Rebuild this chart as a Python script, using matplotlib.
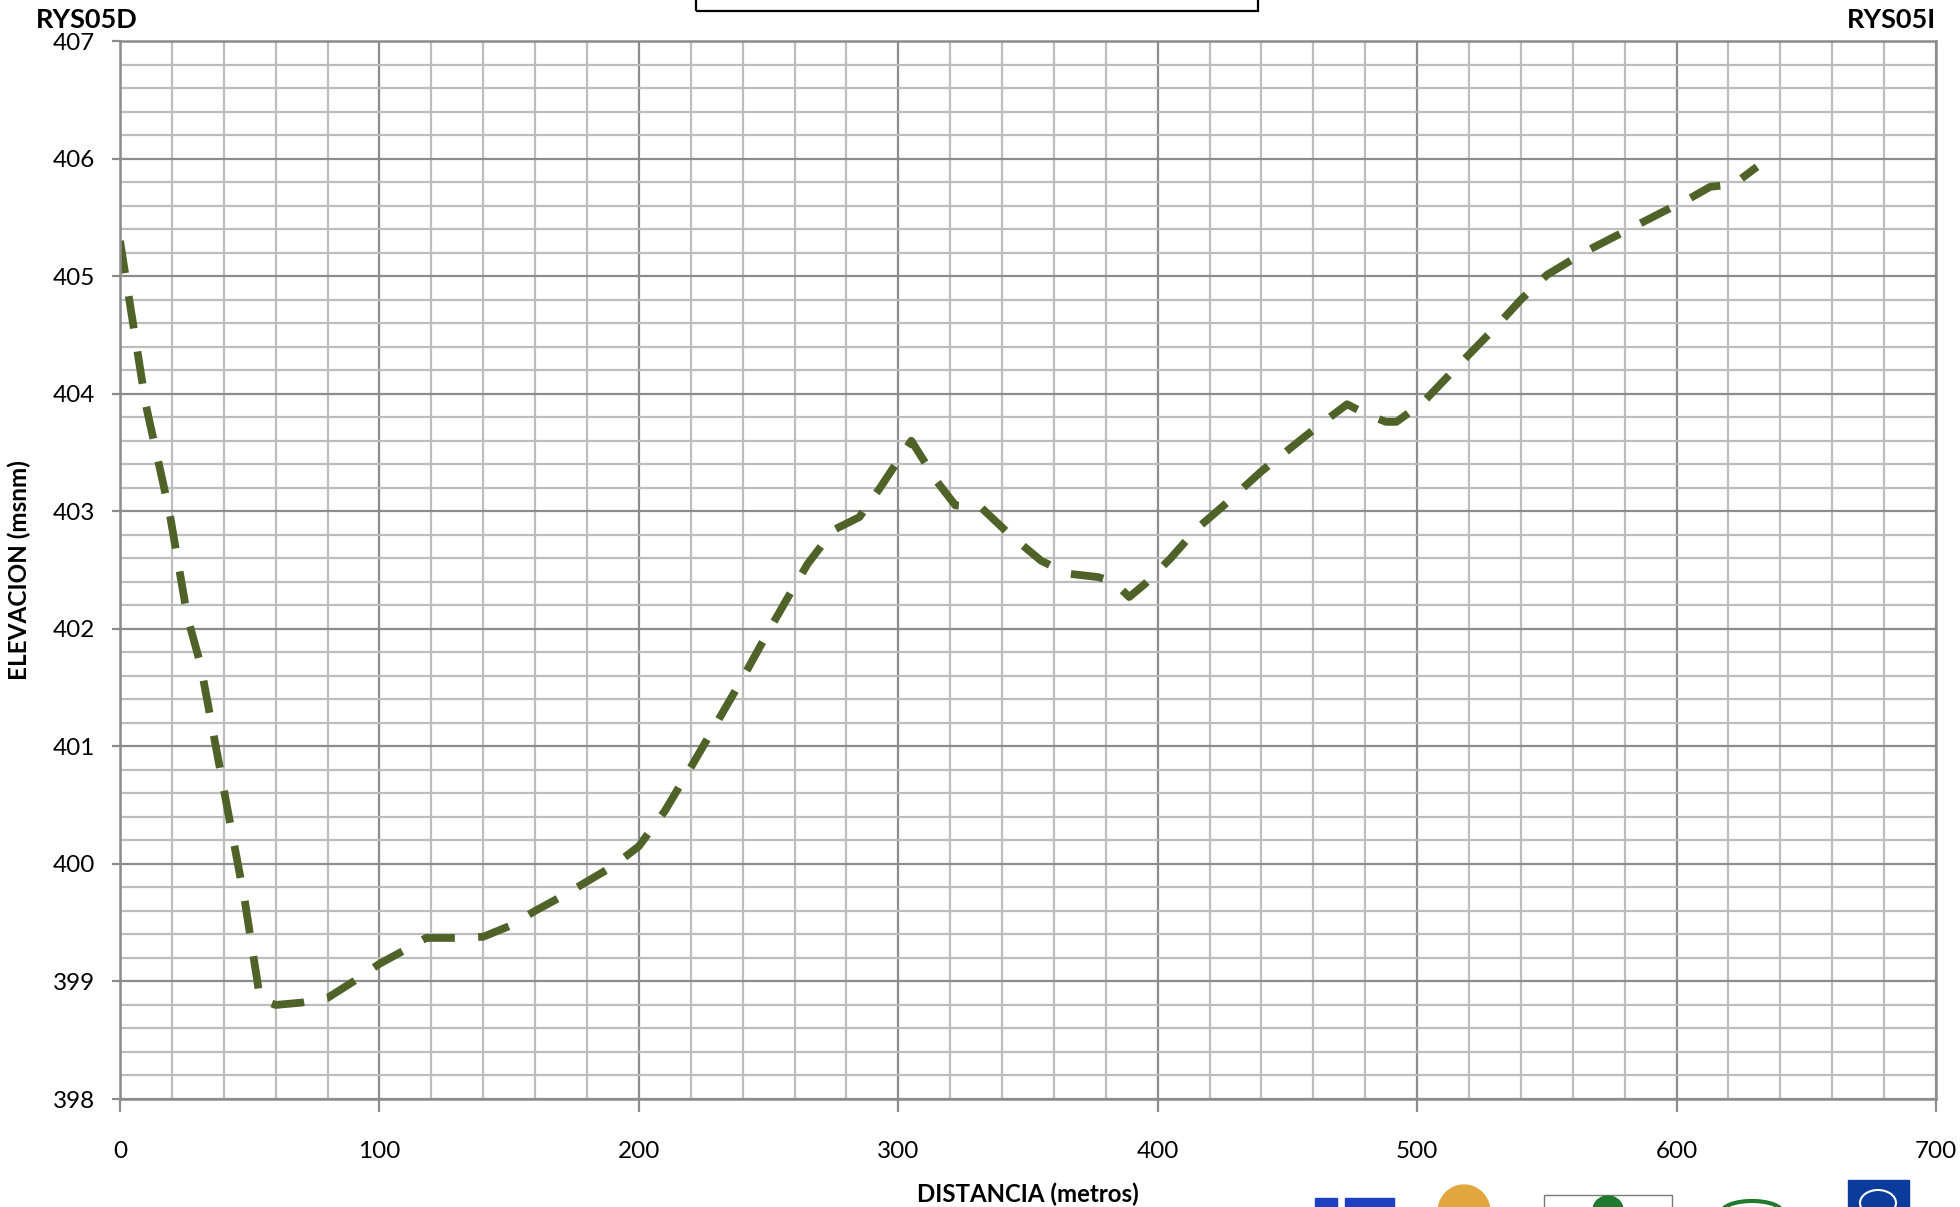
import matplotlib
matplotlib.use("Agg")
import matplotlib.pyplot as plt
from matplotlib.patches import Rectangle, Ellipse
from matplotlib.ticker import MultipleLocator

plt.rcParams["font.family"] = ["Lato", "DejaVu Sans"]

# perfil RYS05D -> RYS05I (distancia en m, elevación en msnm)
distancia = [0, 5, 10, 19, 26, 31, 42, 48, 54, 60, 70, 80, 90, 100, 110, 118,
             130, 140, 150, 160, 170, 180, 190, 200, 210, 220, 230, 240, 250,
             257, 265, 275, 285, 293, 305, 315, 322, 332, 343, 355, 365, 377,
             383, 389, 395, 405, 415, 425, 440, 457, 464, 473, 480, 488, 492,
             502, 515, 530, 540, 550, 565, 580, 595, 605, 613, 622, 631]
elevacion = [405.3, 404.6, 403.9, 403.0, 402.1, 401.7, 400.4, 399.7, 398.85,
             398.8, 398.82, 398.86, 399.0, 399.15, 399.27, 399.37, 399.37,
             399.38, 399.47, 399.6, 399.72, 399.85, 399.98, 400.15, 400.45,
             400.82, 401.2, 401.58, 401.98, 402.25, 402.55, 402.84, 402.95,
             403.2, 403.6, 403.25, 403.05, 403.03, 402.8, 402.58, 402.47,
             402.44, 402.4, 402.27, 402.38, 402.6, 402.85, 403.04, 403.34,
             403.64, 403.76, 403.91, 403.83, 403.76, 403.76, 403.92, 404.22,
             404.56, 404.8, 405.01, 405.21, 405.38, 405.55, 405.66, 405.76,
             405.78, 405.93]

W, H = 1960, 1207
fig = plt.figure(figsize=(W / 100, H / 100), dpi=100)
ax = fig.add_axes([120 / W, 1 - 1099 / H, (1936 - 120) / W, (1099 - 41) / H])


def fx(x):
    return x / W


def fy(y):
    return 1 - y / H


ax.set_xlim(0, 700)
ax.set_ylim(398, 407)
ax.xaxis.set_major_locator(MultipleLocator(100))
ax.xaxis.set_minor_locator(MultipleLocator(20))
ax.yaxis.set_major_locator(MultipleLocator(1))
ax.yaxis.set_minor_locator(MultipleLocator(0.2))
ax.grid(which="minor", color="#bdbdbd", lw=1.6)
ax.grid(which="major", color="#8c8c8c", lw=1.6)
ax.set_axisbelow(True)
for s in ax.spines.values():
    s.set_color("#8c8c8c")
    s.set_linewidth(1.8)
ax.tick_params(which="major", axis="y", length=6, width=1.6, color="#8c8c8c",
               labelsize=17.5, pad=12)
ax.tick_params(which="major", axis="x", length=9, width=1.6, color="#8c8c8c",
               labelsize=17.5, pad=21)
ax.tick_params(which="minor", length=0)

ax.plot(distancia, elevacion, color="#4f6228", lw=5.6, dashes=(4.2, 3.0),
        dash_capstyle="butt", solid_joinstyle="round")

fig.text(fx(1028), fy(1194), "DISTANCIA (metros)", fontsize=17.3,
         fontweight="bold", ha="center", va="center")
fig.text(fx(19), fy(570), "ELEVACION (msnm)", fontsize=17.5,
         fontweight="bold", ha="center", va="center", rotation=90)

fig.text(fx(36), fy(20), "RYS05D", fontsize=19.5, fontweight="bold",
         ha="left", va="center")
fig.text(fx(1936), fy(20), "RYS05I", fontsize=19.5, fontweight="bold",
         ha="right", va="center")

# recuadro del título (cortado arriba)
fig.add_artist(Rectangle((fx(696), fy(11)), fx(1258 - 696), 0.05,
                         transform=fig.transFigure, fill=False,
                         edgecolor="black", lw=1.6, clip_on=False))

# logos institucionales (recortados abajo)
tf = fig.transFigure
fig.add_artist(Rectangle((fx(1315), fy(1207)), fx(22), fy(1198) - fy(1207),
                         transform=tf, color="#1c3fc4"))
fig.add_artist(Rectangle((fx(1345), fy(1207)), fx(49), fy(1198) - fy(1207),
                         transform=tf, color="#1c3fc4"))
fig.add_artist(Ellipse((fx(1464), fy(1212)), fx(52), (fy(1185) - fy(1212)) * 2,
                       transform=tf, color="#e2a63e"))
fig.add_artist(Rectangle((fx(1544), fy(1212)), fx(128), fy(1195) - fy(1212),
                         transform=tf, fill=False, edgecolor="#777777", lw=1))
fig.add_artist(Ellipse((fx(1608), fy(1210)), fx(30), (fy(1196) - fy(1210)) * 2,
                       transform=tf, color="#1f7a2e"))
fig.add_artist(Ellipse((fx(1752), fy(1212)), fx(60), (fy(1201) - fy(1212)) * 2,
                       transform=tf, fill=False, edgecolor="#1f7a2e", lw=3))
fig.add_artist(Rectangle((fx(1848), fy(1207)), fx(61), fy(1180) - fy(1207),
                         transform=tf, color="#0b3b9c"))
fig.add_artist(Ellipse((fx(1878), fy(1203)), fx(36), (fy(1190) - fy(1203)) * 2,
                       transform=tf, fill=False, edgecolor="white", lw=1.5))

fig.savefig("out.png", dpi=100)
